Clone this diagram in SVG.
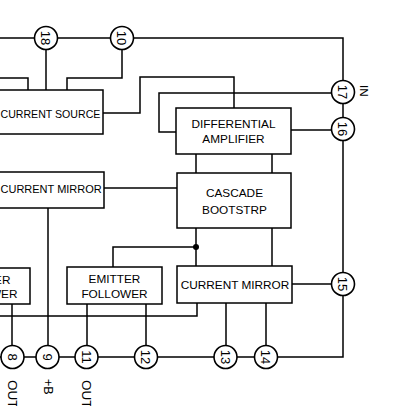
<svg xmlns="http://www.w3.org/2000/svg" width="397" height="406" viewBox="0 0 397 406">
<style>
.w{fill:none;stroke:#000;stroke-width:1.5}
.b{fill:#fff;stroke:#000;stroke-width:1.5}
.p{fill:#fff;stroke:#000;stroke-width:1.6}
.t{font-family:"Liberation Sans",Arial,sans-serif;font-size:11.8px;fill:#000}
.n{font-family:"Liberation Sans",Arial,sans-serif;font-size:13px;fill:#000;text-anchor:middle}
.m{text-anchor:middle}
.e{text-anchor:end}
</style>
<rect width="397" height="406" fill="#fff"/>
<g id="connectors">
<path class="w" d="M0,38 H343 V357 H0"/>
<path class="w" d="M46,38 V90"/>
<path class="w" d="M122,38 V78 H67 V90"/>
<path class="w" d="M0,78 H28 V90"/>
<path class="w" d="M103,113 H140 V77 H234 V108"/>
<path class="w" d="M343,93 H159 V132 H176"/>
<path class="w" d="M291,130 H343"/>
<path class="w" d="M196,154 V173 M272,154 V173"/>
<path class="w" d="M104,188 H177"/>
<path class="w" d="M48,208 V357"/>
<path class="w" d="M196,228 V266 M196,247 H113 V267"/>
<circle cx="196" cy="247" r="3" fill="#000"/>
<path class="w" d="M272,228 V266"/>
<path class="w" d="M292,284 H343"/>
<path class="w" d="M226,303 V357 M266,303 V357"/>
<path class="w" d="M197,303 V316 H0"/>
<path class="w" d="M87,304 V357 M146,304 V357"/>
<path class="w" d="M12,304 V357"/>
</g>
<g id="current-source">
<rect class="b" x="-10" y="90" width="113" height="44"/>
<text class="t" x="0.5" y="117.5" style="font-size:10.6px">CURRENT SOURCE</text>
</g>
<g id="current-mirror-left">
<rect class="b" x="-10" y="172" width="114" height="36"/>
<text class="t" x="0.5" y="193" style="font-size:11px">CURRENT MIRROR</text>
</g>
<g id="differential-amplifier">
<rect class="b" x="176" y="108" width="115" height="46"/>
<text class="t m" x="233.5" y="128">DIFFERENTIAL</text>
<text class="t m" x="233.5" y="142.5">AMPLIFIER</text>
</g>
<g id="cascade-bootstrp">
<rect class="b" x="177" y="173" width="114" height="55"/>
<text class="t m" x="234.5" y="197">CASCADE</text>
<text class="t m" x="234.5" y="213.5">BOOTSTRP</text>
</g>
<g id="emitter-follower-left">
<rect class="b" x="-10" y="268" width="40" height="36"/>
<text class="t e" x="10.5" y="283.5">ER</text>
<text class="t e" x="17.5" y="297.5">WER</text>
</g>
<g id="emitter-follower">
<rect class="b" x="67" y="267" width="95" height="37"/>
<text class="t m" x="114.5" y="283">EMITTER</text>
<text class="t m" x="114.5" y="297.5">FOLLOWER</text>
</g>
<g id="current-mirror-right">
<rect class="b" x="177" y="266" width="115" height="37"/>
<text class="t m" x="235" y="289">CURRENT MIRROR</text>
</g>
<g id="pin-18"><circle class="p" cx="46" cy="38" r="11.5"/><text class="n" transform="translate(46,38) rotate(90)" y="4.6">18</text></g>
<g id="pin-10"><circle class="p" cx="122" cy="38" r="11.5"/><text class="n" transform="translate(122,38) rotate(90)" y="4.6">10</text></g>
<g id="pin-17"><circle class="p" cx="343" cy="92" r="11.5"/><text class="n" transform="translate(343,92) rotate(90)" y="4.6">17</text></g>
<g id="pin-16"><circle class="p" cx="343" cy="129" r="11.5"/><text class="n" transform="translate(343,129) rotate(90)" y="4.6">16</text></g>
<g id="pin-15"><circle class="p" cx="343" cy="284" r="11.5"/><text class="n" transform="translate(343,284) rotate(90)" y="4.6">15</text></g>
<g id="pin-14"><circle class="p" cx="266" cy="357" r="11.5"/><text class="n" transform="translate(266,357) rotate(90)" y="4.6">14</text></g>
<g id="pin-13"><circle class="p" cx="225.5" cy="357" r="11.5"/><text class="n" transform="translate(225.5,357) rotate(90)" y="4.6">13</text></g>
<g id="pin-12"><circle class="p" cx="146" cy="357" r="11.5"/><text class="n" transform="translate(146,357) rotate(90)" y="4.6">12</text></g>
<g id="pin-11"><circle class="p" cx="86.5" cy="357" r="11.5"/><text class="n" transform="translate(86.5,357) rotate(90)" y="4.6">11</text></g>
<g id="pin-9"><circle class="p" cx="47.5" cy="357" r="11.5"/><text class="n" transform="translate(47.5,357) rotate(90)" y="4.6">9</text></g>
<g id="pin-8"><circle class="p" cx="12.5" cy="357" r="11.5"/><text class="n" transform="translate(12.5,357) rotate(90)" y="4.6">8</text></g>
<g id="labels">
<text class="t" transform="translate(360,85) rotate(90)" style="font-size:11.5px">IN</text>
<text class="t" transform="translate(8,380) rotate(90)" style="font-size:13.5px">OUT</text>
<text class="t" transform="translate(44,379) rotate(90)" style="font-size:12.5px">+B</text>
<text class="t" transform="translate(82,380) rotate(90)" style="font-size:13.5px">OUT</text>
</g>
</svg>
